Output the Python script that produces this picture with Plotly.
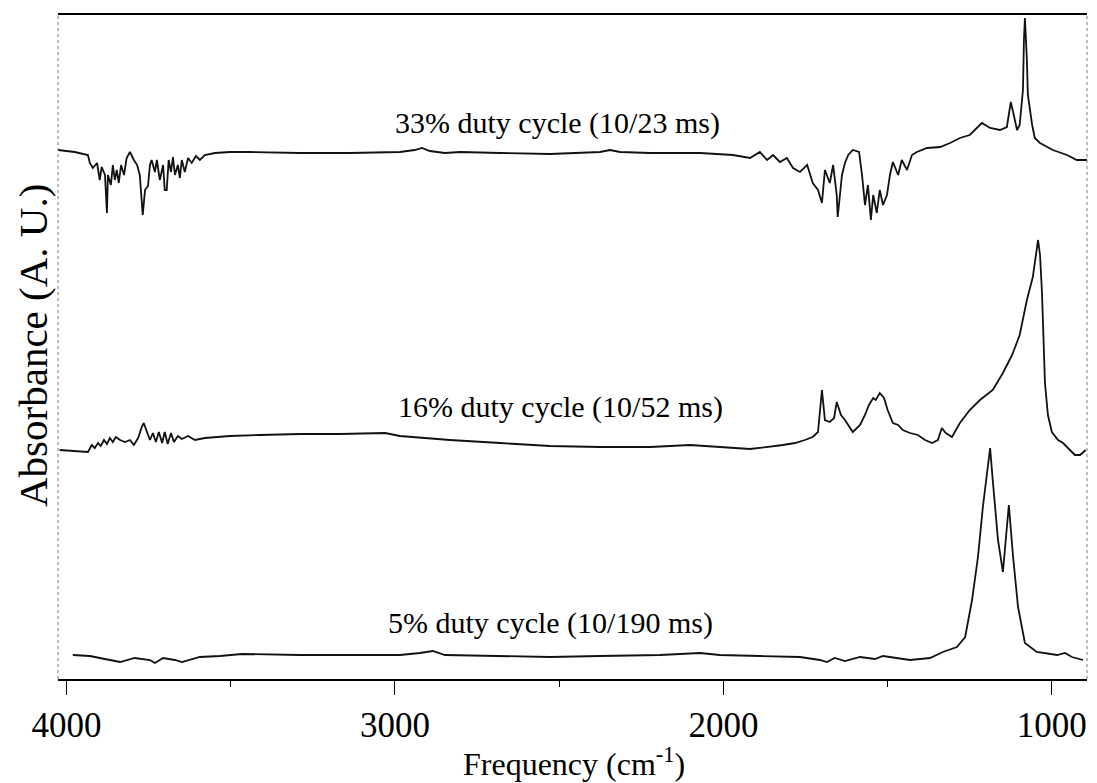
import plotly.graph_objects as go

# ---- data (frequency in cm^-1, absorbance in arbitrary offset units) ----
freq_33 = [4026, 3975, 3935, 3929, 3920, 3907, 3899, 3893, 3883, 3877, 3874, 3865, 3859, 3853,
           3847, 3841, 3834, 3825, 3817, 3807, 3795, 3785, 3777, 3771, 3768, 3761, 3752, 3746,
           3741, 3731, 3725, 3716, 3706, 3701, 3695, 3689, 3682, 3676, 3670, 3661, 3655, 3649,
           3640, 3630, 3619, 3606, 3594, 3579, 3548, 3503, 3442, 3290, 3138, 2985, 2940, 2918,
           2894, 2848, 2802, 2680, 2528, 2376, 2345, 2315, 2223, 2071, 1971, 1919, 1889, 1867,
           1849, 1828, 1807, 1788, 1767, 1745, 1728, 1712, 1700, 1691, 1676, 1666, 1655, 1652,
           1639, 1630, 1620, 1606, 1587, 1578, 1569, 1560, 1551, 1544, 1533, 1524, 1514, 1502,
           1493, 1484, 1468, 1457, 1441, 1426, 1411, 1380, 1340, 1310, 1280, 1250, 1225, 1213,
           1188, 1158, 1137, 1125, 1118, 1106, 1098, 1088, 1085, 1082, 1076, 1073, 1060, 1052,
           1036, 997, 954, 924, 893]
abs_33 = [5.30, 5.28, 5.25, 5.17, 5.12, 5.17, 5.00, 5.13, 5.05, 4.67, 5.05, 4.95, 5.15, 5.00,
          5.10, 4.97, 5.15, 5.05, 5.22, 5.28, 5.20, 5.15, 5.05, 4.80, 4.65, 4.90, 4.94, 5.15,
          5.20, 5.08, 5.20, 5.00, 5.15, 4.90, 4.90, 5.20, 5.08, 5.23, 5.05, 5.15, 5.02, 5.20,
          5.08, 5.22, 5.17, 5.24, 5.20, 5.25, 5.27, 5.28, 5.28, 5.27, 5.27, 5.28, 5.30, 5.32,
          5.29, 5.27, 5.28, 5.27, 5.26, 5.28, 5.30, 5.28, 5.27, 5.27, 5.25, 5.22, 5.28, 5.20,
          5.25, 5.18, 5.22, 5.12, 5.08, 5.15, 4.97, 4.90, 4.77, 5.10, 4.97, 5.15, 4.85, 4.63,
          5.05, 5.17, 5.25, 5.30, 5.28, 5.05, 4.75, 4.95, 4.60, 4.85, 4.67, 4.90, 4.75, 4.85,
          5.05, 5.18, 5.05, 5.20, 5.10, 5.25, 5.28, 5.32, 5.33, 5.37, 5.42, 5.45, 5.53, 5.57,
          5.52, 5.50, 5.53, 5.78, 5.68, 5.50, 5.55, 5.90, 6.40, 6.62, 6.20, 5.85, 5.55, 5.42,
          5.37, 5.30, 5.25, 5.20, 5.20]

freq_16 = [4021, 3975, 3935, 3923, 3914, 3904, 3896, 3886, 3877, 3868, 3859, 3850, 3837, 3822,
           3807, 3795, 3782, 3771, 3765, 3755, 3746, 3737, 3728, 3719, 3709, 3701, 3692, 3682,
           3673, 3661, 3649, 3630, 3609, 3579, 3503, 3412, 3290, 3168, 3030, 2985, 2833, 2680,
           2528, 2376, 2223, 2102, 2011, 1919, 1819, 1782, 1752, 1728, 1712, 1700, 1691, 1676,
           1663, 1655, 1642, 1630, 1606, 1584, 1569, 1557, 1544, 1536, 1524, 1511, 1500, 1484,
           1468, 1454, 1432, 1408, 1386, 1365, 1347, 1335, 1323, 1304, 1280, 1250, 1219, 1180,
           1149, 1121, 1098, 1076, 1058, 1049, 1042, 1036, 1030, 1021, 1012, 1000, 981, 966,
           945, 930, 914, 897]
abs_16 = [2.30, 2.29, 2.28, 2.35, 2.32, 2.37, 2.34, 2.40, 2.36, 2.42, 2.38, 2.43, 2.40, 2.38,
          2.40, 2.35, 2.42, 2.53, 2.57, 2.48, 2.40, 2.47, 2.38, 2.48, 2.37, 2.48, 2.36, 2.47,
          2.38, 2.44, 2.41, 2.44, 2.40, 2.42, 2.44, 2.45, 2.46, 2.46, 2.47, 2.44, 2.40, 2.37,
          2.34, 2.33, 2.33, 2.35, 2.33, 2.31, 2.35, 2.37, 2.40, 2.43, 2.48, 2.90, 2.60, 2.58,
          2.62, 2.78, 2.65, 2.60, 2.48, 2.55, 2.65, 2.75, 2.82, 2.80, 2.87, 2.82, 2.70, 2.57,
          2.55, 2.50, 2.47, 2.45, 2.40, 2.37, 2.40, 2.52, 2.47, 2.43, 2.57, 2.70, 2.80, 2.90,
          3.07, 3.25, 3.45, 3.80, 4.03, 4.25, 4.40, 4.25, 3.87, 2.97, 2.65, 2.48, 2.40, 2.37,
          2.30, 2.25, 2.25, 2.30]

freq_5 = [3981, 3929, 3868, 3837, 3792, 3746, 3731, 3706, 3670, 3649, 3594, 3533, 3466, 3290,
          3138, 2985, 2924, 2885, 2848, 2702, 2528, 2376, 2193, 2071, 2011, 1889, 1767, 1706,
          1685, 1661, 1630, 1584, 1539, 1514, 1478, 1432, 1371, 1332, 1289, 1264, 1243, 1225,
          1210, 1198, 1188, 1180, 1164, 1149, 1137, 1131, 1118, 1103, 1082, 1046, 984, 960, 939,
          905]
abs_5 = [0.25, 0.24, 0.20, 0.18, 0.22, 0.20, 0.17, 0.22, 0.20, 0.18, 0.23, 0.24, 0.26, 0.25,
         0.25, 0.25, 0.27, 0.29, 0.25, 0.24, 0.23, 0.24, 0.25, 0.27, 0.25, 0.24, 0.23, 0.20,
         0.18, 0.22, 0.19, 0.23, 0.21, 0.24, 0.22, 0.20, 0.22, 0.28, 0.33, 0.43, 0.80, 1.23,
         1.73, 2.07, 2.32, 2.00, 1.40, 1.08, 1.57, 1.75, 1.23, 0.73, 0.37, 0.28, 0.25, 0.27,
         0.23, 0.20]

labels = ["33% duty cycle (10/23 ms)", "16% duty cycle (10/52 ms)", "5% duty cycle (10/190 ms)"]
label_x = [2504, 2497, 2525]
label_y = [5.57, 2.73, 0.57]

tick_vals = [4000, 3000, 2000, 1000]
tick_text = ["4000", "3000", "2000", "1000"]
minor_vals = [3500, 2500, 1500]

SERIF = "Liberation Serif, Times New Roman, serif"

fig = go.Figure()
for fx, ay in [(freq_33, abs_33), (freq_16, abs_16), (freq_5, abs_5)]:
    fig.add_trace(go.Scatter(x=fx, y=ay, mode="lines",
                             line=dict(color="#111111", width=1.8), hoverinfo="skip"))

for t, lx, ly in zip(labels, label_x, label_y):
    fig.add_annotation(x=lx, y=ly, xref="x", yref="y", text=t, showarrow=False,
                       font=dict(family=SERIF, size=30, color="black"),
                       xanchor="center", yanchor="middle")

fig.add_annotation(x=-0.0243, y=0.503, xref="paper", yref="paper",
                   text="Absorbance (A. U.)", textangle=-90, showarrow=False,
                   font=dict(family=SERIF, size=41, color="black"),
                   xanchor="center", yanchor="middle")
fig.add_annotation(x=0.5015, y=-0.125, xref="paper", yref="paper",
                   text="Frequency (cm<sup>-1</sup>)", showarrow=False,
                   font=dict(family=SERIF, size=32, color="black"),
                   xanchor="center", yanchor="middle")

# dotted side edges of the frame
for xp in (0, 1):
    fig.add_shape(type="line", xref="paper", yref="paper", x0=xp, x1=xp, y0=0, y1=1,
                  line=dict(color="#777777", width=1, dash="dot"))

fig.update_xaxes(range=[4026, 893], tickvals=tick_vals, ticktext=tick_text,
                 ticks="outside", ticklen=14, tickwidth=1, tickcolor="black",
                 showgrid=False, zeroline=False, showline=True, linecolor="black",
                 linewidth=1.5, mirror=True,
                 tickfont=dict(family=SERIF, size=35, color="black"),
                 ticklabelstandoff=0,
                 minor=dict(tickvals=minor_vals, ticks="outside", ticklen=6,
                            tickcolor="black", tickwidth=1, showgrid=False))
fig.update_yaxes(range=[0.01, 6.65], showticklabels=False, showgrid=False,
                 zeroline=False, showline=False, ticks="")

fig.update_layout(width=1097, height=783, margin=dict(l=58, r=10, t=15, b=104),
                  plot_bgcolor="white", paper_bgcolor="white", showlegend=False)

fig.write_html("out.html")
